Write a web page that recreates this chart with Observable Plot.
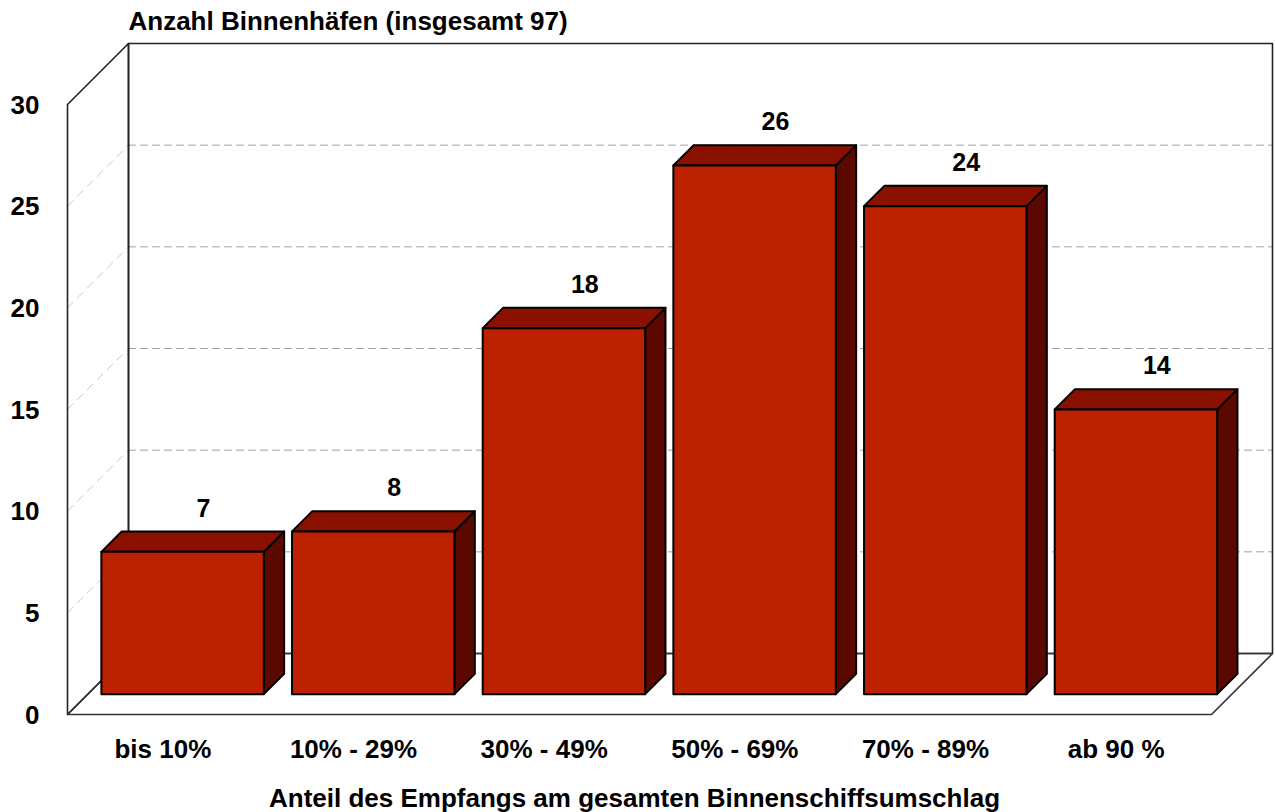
<!DOCTYPE html>
<html>
<head>
<meta charset="utf-8">
<style>
html,body{margin:0;padding:0;background:#fff}
svg{display:block}
</style>
<script src="https://cdn.jsdelivr.net/npm/d3@7"></script>
<script src="https://cdn.jsdelivr.net/npm/@observablehq/plot@0.6"></script>
</head>
<body>
<script>
const categories = ["bis 10%", "10% - 29%", "30% - 49%", "50% - 69%", "70% - 89%", "ab 90 %"];
const values = [7, 8, 18, 26, 24, 14];
const yTicks = [0, 5, 10, 15, 20, 25, 30];
const gridValues = [5, 10, 15, 20, 25];
const yTitle = "Anzahl Binnenhäfen (insgesamt 97)";
const xTitle = "Anteil des Empfangs am gesamten Binnenschiffsumschlag";

const font = "'Liberation Sans', Arial, sans-serif";
const yMax = 30, depthY = 3, depthX = 61 / (1144 / 6), n = categories.length;
const P = (x, v, d) => ({x: x + d * depthX, y: v + d * depthY});
const poly = (id, pts) => [...pts, pts[0]].map(p => ({...p, id}));

const barL = 0.071, barR = 0.923, d0 = 1 / 3, d1 = 2 / 3;
const front = [], top_ = [], side = [];
values.forEach((v, i) => {
  const l = i + barL, r = i + barR;
  front.push(...poly(i, [P(l, 0, d0), P(r, 0, d0), P(r, v, d0), P(l, v, d0)]));
  top_.push(...poly(i, [P(l, v, d0), P(r, v, d0), P(r, v, d1), P(l, v, d1)]));
  side.push(...poly(i, [P(r, 0, d0), P(r, 0, d1), P(r, v, d1), P(r, v, d0)]));
});

const backWall = poly("b", [P(0, 0, 1), P(n, 0, 1), P(n, yMax, 1), P(0, yMax, 1)]);
const leftWall = poly("l", [P(0, 0, 0), P(0, 0, 1), P(0, yMax, 1), P(0, yMax, 0)]);
const floor = poly("f", [P(0, 0, 0), P(n, 0, 0), P(n, 0, 1), P(0, 0, 1)]);
const backGrid = gridValues.flatMap(v => [P(0, v, 1), P(n, v, 1)].map(p => ({...p, id: v})));
const sideGrid = gridValues.flatMap(v => [P(0, v, 0), P(0, v, 1)].map(p => ({...p, id: v})));
const labels = values.map((v, i) => ({...P(i + 0.5, v, d1), text: String(v)}));

const chart = Plot.plot({
  width: 1275,
  height: 812,
  marginLeft: 67, marginRight: 3, marginTop: 43, marginBottom: 98,
  style: {fontFamily: font, background: "#fff", overflow: "visible"},
  x: {domain: [0, n + depthX], range: [67, 1272]},
  y: {domain: [0, yMax + depthY], range: [714, 43]},
  marks: [
    Plot.line(sideGrid, {x: "x", y: "y", z: "id", stroke: "#c8c8c8", strokeWidth: 1, strokeDasharray: "8 6"}),
    Plot.line(backGrid, {x: "x", y: "y", z: "id", stroke: "#a0a0a0", strokeWidth: 1, strokeDasharray: "7 5"}),
    Plot.line(leftWall, {x: "x", y: "y", z: "id", stroke: "#222", strokeWidth: 1.6}),
    Plot.line(backWall, {x: "x", y: "y", z: "id", stroke: "#222", strokeWidth: 1.6}),
    Plot.line(floor, {x: "x", y: "y", z: "id", stroke: "#333", strokeWidth: 1.6}),
    Plot.line(side, {x: "x", y: "y", z: "id", fill: "#5B0800", stroke: "#000", strokeWidth: 2}),
    Plot.line(top_, {x: "x", y: "y", z: "id", fill: "#8A1000", stroke: "#000", strokeWidth: 2}),
    Plot.line(front, {x: "x", y: "y", z: "id", fill: "#BC2200", stroke: "#000", strokeWidth: 2}),
    Plot.text(labels, {x: "x", y: "y", text: "text", dy: -23, fontSize: 25, fontWeight: "bold", fill: "#000"}),
    Plot.axisY({ticks: yTicks, tickSize: 0, tickPadding: 28, dy: 1, label: null, fontSize: 26, fontWeight: "bold", fill: "#000", anchor: "left"}),
    Plot.axisX({ticks: categories.map((c, i) => i + 0.5), tickFormat: t => categories[t - 0.5], tickSize: 0, tickPadding: 25, label: null, fontSize: 26, fontWeight: "bold", fill: "#000", anchor: "bottom"}),
    Plot.text([yTitle], {x: [depthX], y: [yMax + depthY], text: d => d, textAnchor: "start", dx: 0, dy: -22, fontSize: 26, fontWeight: "bold", fill: "#000"}),
    Plot.text([xTitle], {x: [n / 2], y: [0], text: d => d, dx: -5, dy: 84, fontSize: 26, fontWeight: "bold", fill: "#000"})
  ]
});
document.body.appendChild(chart);
</script>
</body>
</html>
